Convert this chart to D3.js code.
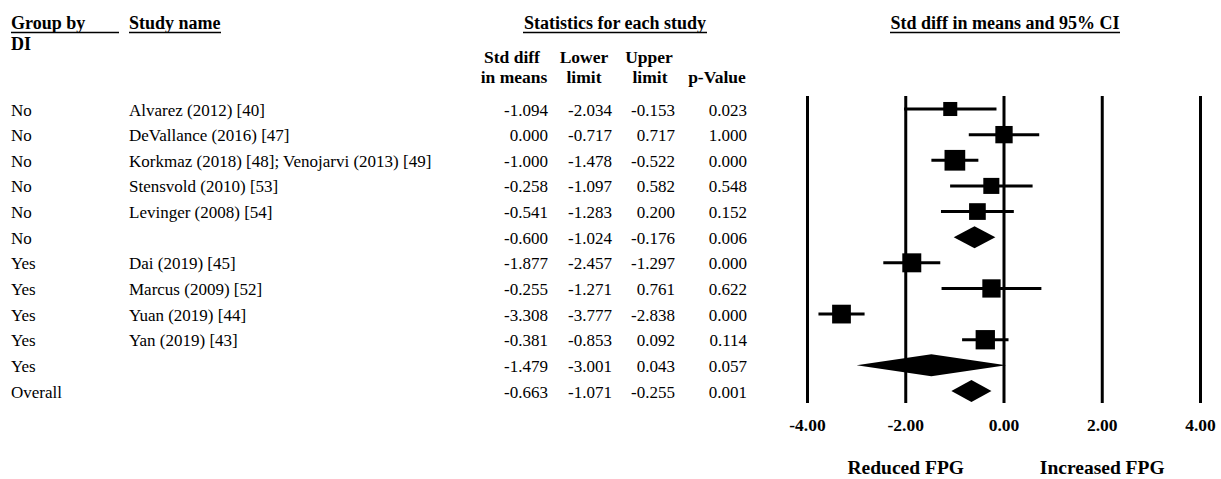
<!DOCTYPE html>
<html>
<head>
<meta charset="utf-8">
<script src="https://cdn.jsdelivr.net/npm/d3@7"></script>
<style>
  html, body { margin: 0; padding: 0; background: #fff; }
  svg { display: block; font-family: "Liberation Serif", "Times New Roman", serif; }
</style>
</head>
<body>
<div id="chart"></div>
<script>
// ---- Data ----
const groups = ["No","No","No","No","No","No","Yes","Yes","Yes","Yes","Yes","Overall"];
const studies = ["Alvarez (2012) [40]", "DeVallance (2016) [47]", "Korkmaz (2018) [48]; Venojarvi (2013) [49]",
  "Stensvold (2010) [53]", "Levinger (2008) [54]", "", "Dai (2019) [45]", "Marcus (2009) [52]",
  "Yuan (2019) [44]", "Yan (2019) [43]", "", ""];
const smd   = [-1.094, 0.000, -1.000, -0.258, -0.541, -0.600, -1.877, -0.255, -3.308, -0.381, -1.479, -0.663];
const lower = [-2.034, -0.717, -1.478, -1.097, -1.283, -1.024, -2.457, -1.271, -3.777, -0.853, -3.001, -1.071];
const upper = [-0.153, 0.717, -0.522, 0.582, 0.200, -0.176, -1.297, 0.761, -2.838, 0.092, 0.043, -0.255];
const pValue = ["0.023","1.000","0.000","0.548","0.152","0.006","0.000","0.622","0.000","0.114","0.057","0.001"];
const isSummary = [false,false,false,false,false,true,false,false,false,false,true,true];
// relative study weight (square area)
const relWeight = [46, 70, 100, 60, 65, null, 84, 78, 82, 87, null, null];
const axisTicks = [-4, -2, 0, 2, 4];
const leftLabel = "Reduced FPG";
const rightLabel = "Increased FPG";

// ---- Layout ----
const W = 1221, H = 479;
const svg = d3.select("#chart").append("svg").attr("width", W).attr("height", H);
svg.append("rect").attr("width", W).attr("height", H).attr("fill", "#fff");

const x = d3.scaleLinear().domain([-4, 4]).range([807.5, 1200.5]);
const rowIdx = d3.range(groups.length);
const y = d3.scalePoint().domain(rowIdx).range([109, 391]);
const side = d3.scaleSqrt().domain([0, 100]).range([0, 20.7]);
const hy = s => s.replace(/\u2212/g, "-");
const fmt = v => hy(d3.format(".3f")(v));

const regFont = 17, headFont = 18, subFont = 17.5;

// ---- Headers ----
function headText(t, xx, yy, anchor, size) {
  return svg.append("text").attr("x", xx).attr("y", yy).attr("text-anchor", anchor || "start")
    .attr("font-size", size || headFont).attr("font-weight", "bold").attr("fill", "#000").text(t);
}
function underline(x1, x2, yy) {
  svg.append("line").attr("x1", x1).attr("x2", x2).attr("y1", yy).attr("y2", yy)
    .attr("stroke", "#000").attr("stroke-width", 1.3);
}
headText("Group by", 11, 29); underline(11, 119, 32.5);
headText("DI", 11, 50);
headText("Study name", 129, 29); underline(129, 221, 32.5);
headText("Statistics for each study", 615, 29, "middle"); underline(523, 707, 32.5);
headText("Std diff in means and 95% CI", 1005, 29, "middle"); underline(890, 1120, 32.5);

headText("Std diff", 512, 63, "middle", subFont);
headText("in means", 514, 83, "middle", subFont);
headText("Lower", 584, 63, "middle", subFont);
headText("limit", 584, 83, "middle", subFont);
headText("Upper", 649, 63, "middle", subFont);
headText("limit", 650, 83, "middle", subFont);
headText("p-Value", 717, 83, "middle", subFont);

// ---- Table rows ----
const rows = svg.append("g").attr("font-size", regFont).attr("fill", "#000");
const colRight = [548, 612, 675, 747];
rowIdx.forEach(i => {
  const yy = y(i) + 6.5;
  rows.append("text").attr("x", 11).attr("y", yy).text(groups[i]);
  rows.append("text").attr("x", 129).attr("y", yy).text(studies[i]);
  [fmt(smd[i]), fmt(lower[i]), fmt(upper[i]), pValue[i]].forEach((v, k) => {
    rows.append("text").attr("x", colRight[k]).attr("y", yy).attr("text-anchor", "end").text(v);
  });
});

// ---- Forest plot ----
const plot = svg.append("g");
const yTop = y(0) - 13, yBot = y(groups.length - 1) + 12;
plot.selectAll("line.grid").data(axisTicks).join("line")
  .attr("class", "grid")
  .attr("x1", d => x(d)).attr("x2", d => x(d))
  .attr("y1", yTop).attr("y2", yBot)
  .attr("stroke", "#000").attr("stroke-width", 3);

rowIdx.forEach(i => {
  const cy = y(i);
  if (isSummary[i]) {
    const h = 11;
    plot.append("polygon")
      .attr("points", [[x(lower[i]), cy], [x(smd[i]), cy - h], [x(upper[i]), cy], [x(smd[i]), cy + h]].map(p => p.join(",")).join(" "))
      .attr("fill", "#000");
  } else {
    plot.append("line").attr("x1", x(lower[i])).attr("x2", x(upper[i]))
      .attr("y1", cy).attr("y2", cy).attr("stroke", "#000").attr("stroke-width", 3);
    const s = side(relWeight[i]);
    plot.append("rect").attr("x", x(smd[i]) - s / 2).attr("y", cy - s / 2)
      .attr("width", s).attr("height", s).attr("fill", "#000");
  }
});

// ---- Axis labels ----
plot.selectAll("text.tick").data(axisTicks).join("text")
  .attr("class", "tick")
  .attr("x", d => x(d)).attr("y", 431)
  .attr("text-anchor", "middle").attr("font-size", 17.5).attr("font-weight", "bold")
  .text(d => hy(d3.format(".2f")(d)));

headText(leftLabel, x(-2), 474, "middle", 19.5);
headText(rightLabel, x(2), 474, "middle", 19.5);
</script>
</body>
</html>
